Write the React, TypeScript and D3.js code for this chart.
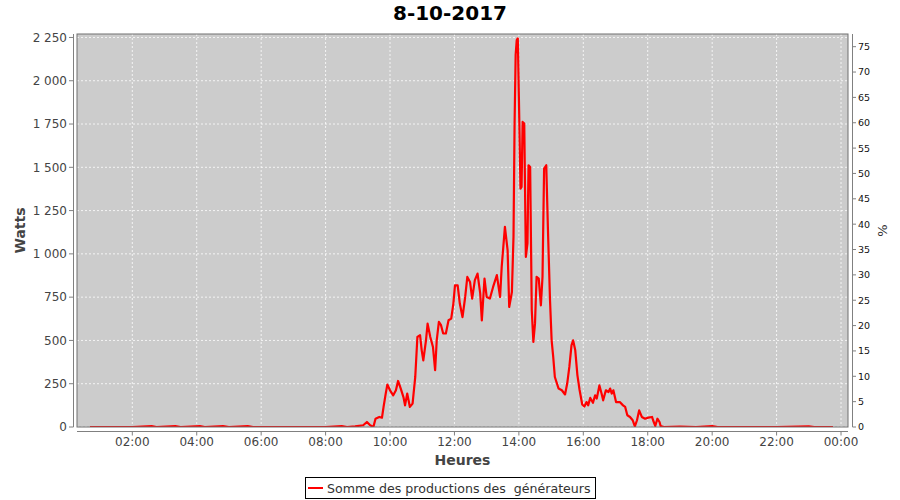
import React from "react";
import * as d3 from "d3";

const times = [
  "00:41","01:20","02:00","02:36","02:45","03:20","03:30","04:06","04:15","04:49","05:00","05:35","05:45","06:30","07:15","08:00","08:30","08:40","08:55",
  "09:10","09:17","09:23","09:29","09:33","09:40","09:45","09:48","09:52","09:55","10:00",
  "10:06","10:11","10:15","10:20","10:25","10:28","10:32","10:37","10:42","10:47","10:51","10:56","10:59",
  "11:02","11:07","11:10","11:15","11:20","11:24","11:27","11:31","11:35","11:39","11:44","11:49","11:54","11:58",
  "12:01","12:06","12:10","12:15","12:20","12:24","12:29","12:33","12:38","12:43","12:48","12:51","12:56",
  "13:00","13:06","13:12","13:19","13:25","13:28","13:34","13:39","13:42","13:47","13:50","13:52","13:54","13:56","13:58",
  "14:00","14:03","14:05","14:07","14:10","14:13","14:16","14:18","14:21","14:24","14:27","14:30","14:33","14:37","14:41","14:44","14:47","14:51","14:54","14:58",
  "15:01","15:04","15:07","15:14","15:20","15:26","15:30","15:34","15:38","15:41","15:45","15:49","15:53","15:58",
  "16:02","16:06","16:09","16:13","16:18","16:22","16:25","16:30","16:34","16:37","16:42","16:47","16:50","16:53","16:56",
  "17:01","17:08","17:14","17:18","17:22","17:27","17:32","17:36","17:40","17:44","17:49","17:55",
  "18:01","18:08","18:10","18:14","18:18","18:22","18:24","18:30","19:00","19:30","20:00","20:10","21:00","22:00","23:00","23:10","23:45"
];

const watts = [
  0,0,0,5,0,5,0,5,0,5,0,5,0,0,0,0,5,0,4,
  10,29,10,0,48,58,54,116,193,245,212,
  183,212,266,222,173,125,193,116,135,289,520,530,443,
  385,501,597,520,462,328,501,607,588,540,540,617,626,713,
  818,818,713,635,751,867,838,742,848,886,772,616,857,
  751,742,809,877,751,924,1156,1021,693,780,1100,1750,2150,2235,2245,
  1907,1377,1387,1762,1753,982,1060,1512,1502,674,491,597,867,857,703,867,1493,1512,1156,732,
  501,404,289,222,212,188,251,347,472,501,443,300,215,130,
  118,144,125,168,140,183,164,240,193,154,212,202,222,193,212,
  144,144,125,116,68,58,39,4,39,96,58,48,
  54,58,39,6,48,29,6,0,3,0,5,0,0,0,4,0,0
];

const leftTicks = [0, 250, 500, 750, 1000, 1250, 1500, 1750, 2000, 2250];
const rightTicks = [0, 5, 10, 15, 20, 25, 30, 35, 40, 45, 50, 55, 60, 65, 70, 75];
const xTickLabels = ["02:00", "04:00", "06:00", "08:00", "10:00", "12:00", "14:00", "16:00", "18:00", "20:00", "22:00", "00:00"];

const title = "8-10-2017";
const seriesName = "Somme des productions des  générateurs";

const toMin = (s: string) => {
  const [h, m] = s.split(":").map(Number);
  return h * 60 + m;
};

const fmt = (v: number) => {
  const s = String(v);
  if (s.length > 3) return s.slice(0, s.length - 3) + "\u00A0" + s.slice(s.length - 3);
  return s;
};

export default function App() {
  const L = 77, R = 848, T = 34, B = 427;
  const x = d3.scaleLinear().domain([17, 1453]).range([L, R]);
  const y = d3.scaleLinear().domain([0, 2270]).range([B, T]);
  const y2 = d3.scaleLinear().domain([0, 77.5]).range([B, T]);

  const data = times.map((t, i) => ({ t: toMin(t), v: watts[i] }));
  const line = d3.line<{ t: number; v: number }>().x(d => x(d.t)).y(d => y(d.v));
  const xTicks = xTickLabels.map((lab, i) => ({ lab, m: (i + 1) * 120 }));

  const font = "'DejaVu Sans', sans-serif";
  return (
    <svg width={900} height={500} style={{ position: "absolute", left: 0, top: 0, background: "#fff" }} fontFamily={font}>
      <rect x={0} y={0} width={900} height={500} fill="#ffffff" />
      <text x={450} y={20} textAnchor="middle" fontSize={20} fontWeight="bold" fill="#000">{title}</text>
      <defs>
        <clipPath id="plotclip"><rect x={L} y={T} width={R - L} height={B - T} /></clipPath>
      </defs>
      <rect x={L} y={T} width={R - L} height={B - T} fill="#cccccc" />
      {leftTicks.map(v => (
        <line key={"hg" + v} x1={L} x2={R} y1={y(v)} y2={y(v)} stroke="#ffffff" strokeWidth={1} strokeDasharray="2,2" opacity={0.8} />
      ))}
      {xTicks.map(d => (
        <line key={"vg" + d.m} x1={x(d.m)} x2={x(d.m)} y1={T} y2={B} stroke="#ffffff" strokeWidth={1} strokeDasharray="2,2" opacity={0.8} />
      ))}
      <path d={line(data) || ""} fill="none" stroke="#ff0000" strokeWidth={2.2} strokeLinejoin="round" clipPath="url(#plotclip)" />
      <rect x={L} y={T} width={R - L} height={B - T} fill="none" stroke="#707070" strokeWidth={1} />

      {/* left axis */}
      <line x1={73.5} x2={73.5} y1={T} y2={B} stroke="#808080" />
      {leftTicks.map(v => (
        <g key={"lt" + v}>
          <line x1={69} x2={73.5} y1={y(v)} y2={y(v)} stroke="#808080" />
          <text x={67} y={y(v)} dy="0.36em" textAnchor="end" fontSize={12} fill="#444">{fmt(v)}</text>
        </g>
      ))}
      <text transform={`translate(25, ${(T + B) / 2}) rotate(-90)`} textAnchor="middle" fontSize={14} fontWeight="bold" fill="#444">Watts</text>

      {/* right axis */}
      <line x1={852.5} x2={852.5} y1={T} y2={B} stroke="#808080" />
      {rightTicks.map(v => (
        <g key={"rt" + v}>
          <line x1={852.5} x2={856} y1={y2(v)} y2={y2(v)} stroke="#808080" />
          <text x={858} y={y2(v)} dy="0.36em" textAnchor="start" fontSize={9.5} fill="#111">{v}</text>
        </g>
      ))}
      <text transform={`translate(887, ${(T + B) / 2}) rotate(-90)`} textAnchor="middle" fontSize={13} fill="#333">%</text>

      {/* bottom axis */}
      <line x1={L} x2={R} y1={431.5} y2={431.5} stroke="#808080" />
      {xTicks.map(d => (
        <g key={"xt" + d.m}>
          <line x1={x(d.m)} x2={x(d.m)} y1={431.5} y2={435.5} stroke="#808080" />
          <text x={x(d.m)} y={446} textAnchor="middle" fontSize={12} fill="#444">{d.lab}</text>
        </g>
      ))}
      <text x={(L + R) / 2} y={465} textAnchor="middle" fontSize={14} fontWeight="bold" fill="#444">Heures</text>

      {/* legend */}
      <rect x={305.5} y={477.5} width={290} height={21} fill="#fff" stroke="#000" strokeWidth={1} />
      <line x1={308} x2={323} y1={488} y2={488} stroke="#ff0000" strokeWidth={2} />
      <rect x={314} y={487} width={2} height={2} fill="#ff0000" />
      <text x={327} y={492.5} fontSize={12.6} fill="#333" style={{ whiteSpace: "pre" }}>{seriesName}</text>
    </svg>
  );
}
